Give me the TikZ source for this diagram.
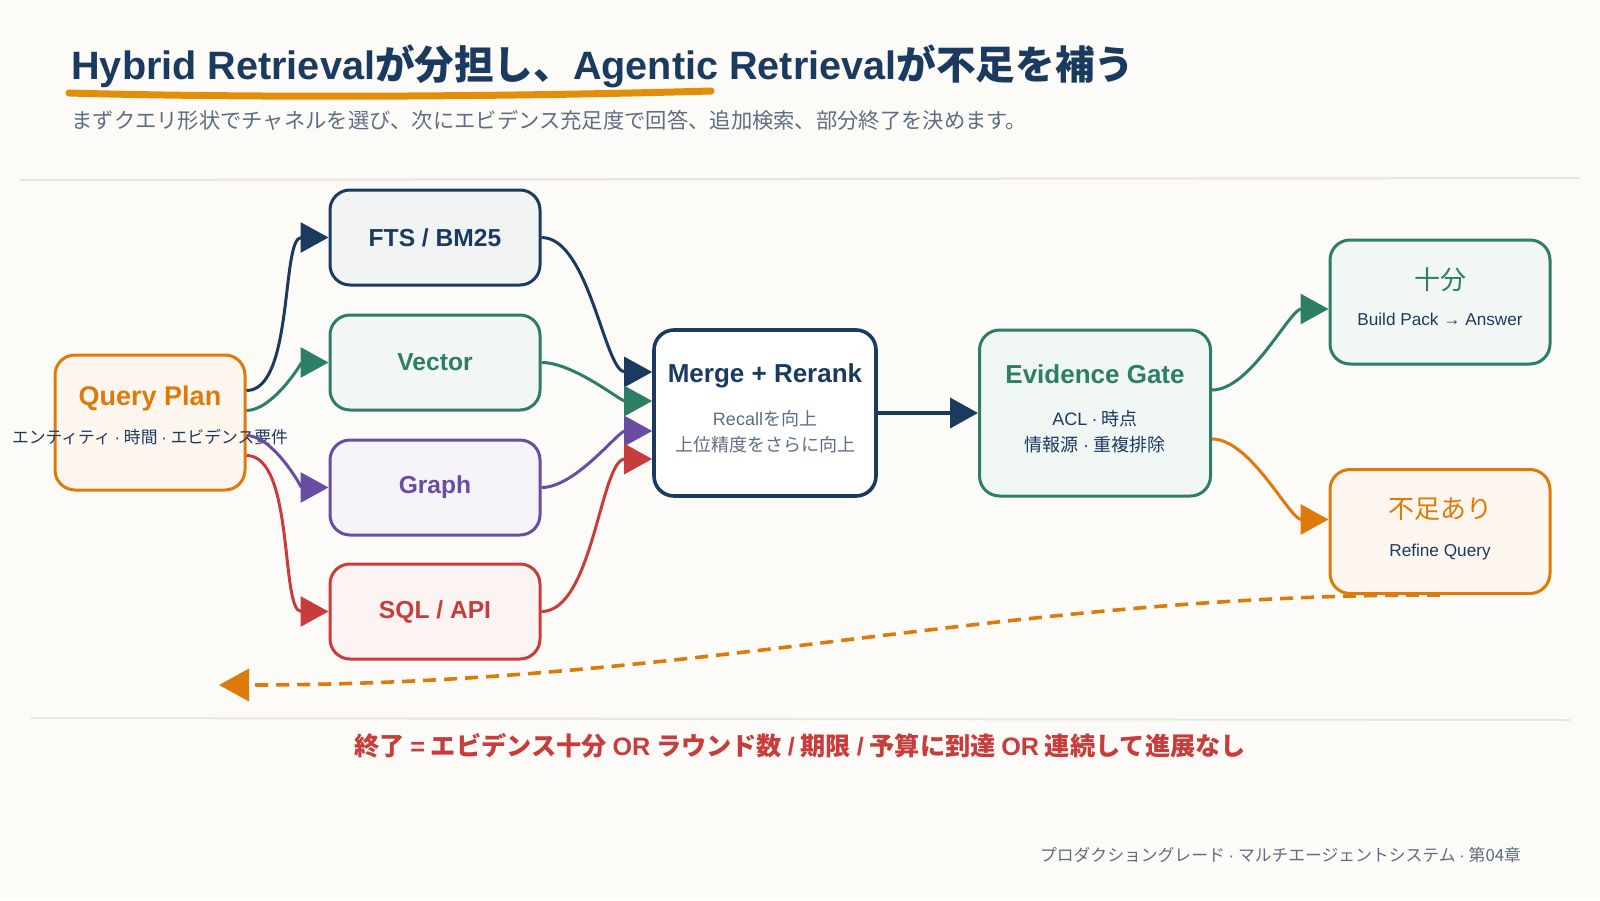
\documentclass[tikz,border=0pt]{standalone}
\usepackage{fontspec}
\setmainfont{Noto Sans CJK JP}
\newfontfamily\lat{Liberation Sans}
\usetikzlibrary{arrows.meta}

\definecolor{paper}{HTML}{FDFBF7}
\definecolor{navy}{HTML}{1B3A60}
\definecolor{leaf}{HTML}{2E7D66}
\definecolor{plum}{HTML}{6A4CA3}
\definecolor{brick}{HTML}{C93C3C}
\definecolor{amber}{HTML}{DD7A0A}
\definecolor{slate}{HTML}{5E6E82}
\definecolor{rule}{HTML}{ECE7DD}

\newcommand\latn[1]{{\lat #1}}
\newcommand\mdot{\latn{·}}

\tikzset{
  box/.style={draw, rounded corners=10pt, line width=1.5pt},
  chan/.style={box, minimum width=105pt, minimum height=47.5pt,
    font=\lat\bfseries\fontsize{12.3}{14}\selectfont},
  bigbox/.style={box, minimum height=83pt},
  endbox/.style={box, minimum width=110pt, minimum height=62pt},
  head/.style={font=\lat\bfseries\fontsize{13}{15}\selectfont},
  sub/.style={font=\fontsize{9}{13}\selectfont, align=center},
  flow/.style={line width=1.5pt, looseness=0.7, -{Triangle[length=14pt,width=15pt]}},
}

\begin{document}
\begin{tikzpicture}[x=0.5pt,y=-0.5pt]
  \fill[paper] (0,0) rectangle (1600,900);
  \useasboundingbox (0,0) rectangle (1600,900);

  \draw[amber!85!yellow, line width=3.5pt, line cap=round]
    (69,93) .. controls (250,98) and (500,97) .. (711,91);
  \node[anchor=base west, inner sep=0pt, text=navy,
    font=\bfseries\fontsize{19.8}{22}\selectfont] (title) at (71,79)
    {\latn{Hybrid Retrieval}が分担し、\latn{Agentic Retrieval}が不足を補う};
  \node[anchor=base west, inner sep=0pt, text=slate,
    font=\fontsize{10.65}{12}\selectfont] (lead) at (71,128)
    {まずクエリ形状でチャネルを選び、次にエビデンス充足度で回答、追加検索、部分終了を決めます。};

  \draw[rule, line width=1pt] (20,180) -- (1580,178);
  \draw[rule, line width=1pt] (31,718) -- (1570,720);

  \node[box, draw=amber, fill=amber!7, minimum width=95pt, minimum height=67.5pt]
    (plan) at (150,422.5) {};
  \node[head, text=amber, font=\lat\bfseries\fontsize{13.5}{15}\selectfont]
    (planT) at ([yshift=-22.5pt]plan.north) {Query Plan};
  \node[sub, text=navy, font=\fontsize{8.4}{10}\selectfont]
    (planS) at ([yshift=-42pt]plan.north) {エンティティ \mdot{} 時間 \mdot{} エビデンス要件};

  \node[chan, draw=navy, fill=navy!6, text=navy] (fts) at (435,237.5) {FTS / BM25};
  \node[chan, draw=leaf, fill=leaf!6, text=leaf] (vec) at (435,362.5) {Vector};
  \node[chan, draw=plum, fill=plum!6, text=plum] (graph) at (435,487.5) {Graph};
  \node[chan, draw=brick, fill=brick!6, text=brick] (sql) at (435,611.5) {SQL / API};

  \node[bigbox, draw=navy, fill=white, line width=1.8pt, minimum width=111pt]
    (merge) at (765,413) {};
  \node[head, text=navy] (mergeT) at ([yshift=-24pt]merge.north) {Merge + Rerank};
  \node[sub, text=slate] (mergeS) at ([yshift=-51.5pt]merge.north)
    {\latn{Recall}を向上\\上位精度をさらに向上};

  \node[bigbox, draw=leaf, fill=leaf!7, minimum width=115.5pt] (gate) at (1095,413) {};
  \node[head, text=leaf] (gateT) at ([yshift=-23pt]gate.north) {Evidence Gate};
  \node[sub, text=navy] (gateS) at ([yshift=-51.5pt]gate.north)
    {\latn{ACL} \mdot{} 時点\\情報源 \mdot{} 重複排除};

  \node[endbox, draw=leaf, fill=leaf!6] (enough) at (1440,302) {};
  \node[text=leaf, font=\fontsize{13}{15}\selectfont]
    (enoughT) at ([yshift=-20.5pt]enough.north) {十分};
  \node[text=navy, font=\lat\fontsize{8.6}{10}\selectfont]
    (enoughS) at ([yshift=-40.5pt]enough.north) {Build Pack → Answer};

  \node[endbox, draw=amber, fill=amber!7] (short) at (1440,531.5) {};
  \node[text=amber, font=\fontsize{13}{15}\selectfont]
    (shortT) at ([yshift=-20.5pt]short.north) {不足あり};
  \node[text=navy, font=\lat\fontsize{8.6}{10}\selectfont]
    (shortS) at ([yshift=-42pt]short.north) {Refine Query};

  \draw[flow, navy] ([yshift=16pt]plan.east) to[out=0,in=180] (fts.west);
  \draw[flow, leaf] ([yshift=6pt]plan.east) to[out=0,in=180] (vec.west);
  \draw[flow, plum] ([yshift=-6.5pt]plan.east) to[out=0,in=180] (graph.west);
  \draw[flow, brick] ([yshift=-16.5pt]plan.east) to[out=0,in=180] (sql.west);

  \draw[flow, navy] (fts.east) to[out=0,in=180] ([yshift=20.5pt]merge.west);
  \draw[flow, leaf] (vec.east) to[out=0,in=180] ([yshift=6pt]merge.west);
  \draw[flow, plum] (graph.east) to[out=0,in=180] ([yshift=-9pt]merge.west);
  \draw[flow, brick] (sql.east) to[out=0,in=180] ([yshift=-23pt]merge.west);

  \draw[flow, navy, line width=2pt] (merge.east) -- (gate.west);

  \draw[flow, leaf] ([yshift=11.5pt]gate.east) to[out=0,in=180] ([yshift=-3.5pt]enough.west);
  \draw[flow, amber] ([yshift=-13pt]gate.east) to[out=0,in=180] ([yshift=6pt]short.west);

  \coordinate (back) at (219,685);
  \draw[amber, line width=1.8pt, dash pattern=on 6.5pt off 4pt,
    -{Triangle[length=15pt,width=16pt]}]
    (short.south) .. controls (1000,594) and (700,685) .. (back);

  \node[text=brick, font=\bfseries\fontsize{12.6}{14}\selectfont] (stop) at (800,746)
    {終了 \latn{=} エビデンス十分 \latn{OR} ラウンド数 \latn{/} 期限 \latn{/} 予算に到達 \latn{OR} 連続して進展なし};

  \node[anchor=east, text=slate, font=\fontsize{8.4}{10}\selectfont] (foot) at (1528,855)
    {プロダクショングレード \mdot{} マルチエージェントシステム \mdot{} 第04章};
\end{tikzpicture}
\end{document}
